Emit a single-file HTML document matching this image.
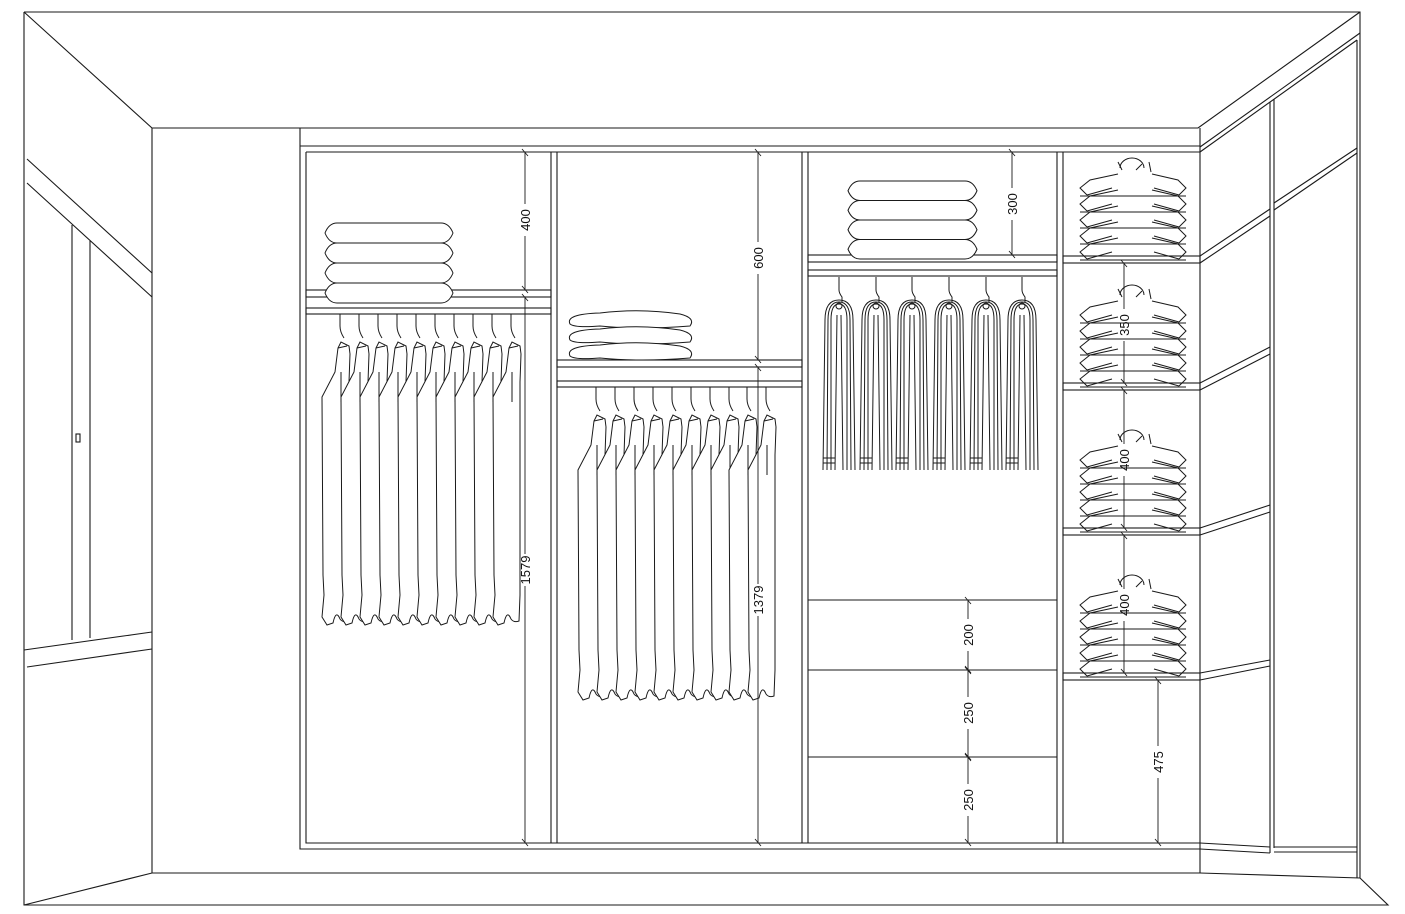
<!DOCTYPE html>
<html><head><meta charset="utf-8"><style>
html,body{margin:0;padding:0;background:#fff;}
svg{display:block;}
text{font-family:"Liberation Sans",sans-serif;font-size:13px;fill:#111;}
</style></head><body>
<svg id="s" width="1405" height="914" viewBox="0 0 1405 914" xmlns="http://www.w3.org/2000/svg" stroke="#1a1a1a" stroke-width="1.1" fill="none">
<!-- room -->
<path d="M24 12 H1360 V878 M24 12 V905 H1388 L1360 878"/>
<path d="M24 12 L152 128 H1198 L1360 12"/>
<path d="M152 128 V873 M24 905 L152 873 H1200 L1360 878"/>
<!-- window left -->
<path d="M27 159 L152 273 M27 183 L152 297"/>
<path d="M72 225 V640 M90 241 V638"/>
<path d="M24 650 L152 632 M27 667 L152 649"/>
<rect x="76" y="434" width="4" height="8"/>
<!-- cabinet -->
<path d="M300 128 V849 H1200 M300 146 H1200 M306 152 H1200 M306 152 V843 H1200"/>
<path d="M551 152 V843 M557 152 V843 M802 152 V843 M808 152 V843 M1057 152 V843 M1063 152 V843 M1200 128 V873"/>
<!-- col1 shelf/rail -->
<rect x="306" y="290" width="245" height="7"/>
<rect x="306" y="308" width="245" height="6"/>
<!-- col2 -->
<rect x="557" y="360" width="245" height="7"/>
<rect x="557" y="381" width="245" height="6"/>
<!-- col3 -->
<rect x="808" y="255" width="249" height="7"/>
<rect x="808" y="270" width="249" height="6"/>
<path d="M808 600 H1057 M808 670 H1057 M808 757 H1057"/>
<!-- col4 shelves -->
<rect x="1063" y="256" width="137" height="7"/>
<rect x="1063" y="383" width="137" height="7"/>
<rect x="1063" y="528" width="137" height="7"/>
<rect x="1063" y="673" width="137" height="7"/>
<!-- right side -->
<path d="M1200 147 L1360 33 M1200 152 L1357 40 M1357 40 V878"/>
<path d="M1270 102 V853 M1274 99 V848"/>
<path d="M1200 256 L1270 209 M1200 263 L1270 216"/>
<path d="M1200 383 L1270 347 M1200 390 L1270 354"/>
<path d="M1200 528 L1270 505 M1200 535 L1270 512"/>
<path d="M1200 673 L1270 660 M1200 680 L1270 666"/>
<path d="M1200 843 L1270 847 M1200 849 L1270 853 M1274 847 H1357 M1274 852 H1357"/>
<path d="M1274 203 L1357 148 M1274 210 L1357 153"/>
<g id="items" stroke-width="1"></g>
<g id="dims" stroke-width="0.9"></g>
<g id="labels" stroke="none">
<text transform="translate(530,220) rotate(-90)" text-anchor="middle">400</text>
<text transform="translate(530,570) rotate(-90)" text-anchor="middle">1579</text>
<text transform="translate(763,258) rotate(-90)" text-anchor="middle">600</text>
<text transform="translate(763,600) rotate(-90)" text-anchor="middle">1379</text>
<text transform="translate(1017,204) rotate(-90)" text-anchor="middle">300</text>
<text transform="translate(973,635) rotate(-90)" text-anchor="middle">200</text>
<text transform="translate(973,713) rotate(-90)" text-anchor="middle">250</text>
<text transform="translate(973,800) rotate(-90)" text-anchor="middle">250</text>
<text transform="translate(1129,325) rotate(-90)" text-anchor="middle">350</text>
<text transform="translate(1129,460) rotate(-90)" text-anchor="middle">400</text>
<text transform="translate(1129,605) rotate(-90)" text-anchor="middle">400</text>
<text transform="translate(1163,762) rotate(-90)" text-anchor="middle">475</text>
</g>
</svg>
<script>
var NS="http://www.w3.org/2000/svg";
var items=document.getElementById('items'),dims=document.getElementById('dims');
function P(g,d,fill){var p=document.createElementNS(NS,'path');p.setAttribute('d',d);if(fill)p.setAttribute('fill',fill);g.appendChild(p);}
function dim(x,y1,y2,ly){
 P(dims,'M'+x+' '+y1+' V'+(ly-16)+' M'+x+' '+(ly+16)+' V'+y2);
 P(dims,'M'+(x-3)+' '+(y1-3)+' L'+(x+3)+' '+(y1+4)+' M'+(x-3)+' '+(y2-4)+' L'+(x+3)+' '+(y2+3));
}
dim(525,152,290,220);dim(525,297,843,570);
dim(758,152,360,258);dim(758,367,843,600);
dim(1012,152,255,204);
dim(968,600,670,635);dim(968,670,757,713);dim(968,757,843,800);
dim(1124,263,383,325);dim(1124,390,528,460);dim(1124,535,673,605);
dim(1158,680,843,762);
function shirt(x,rail,bot){
 var t=rail+28;
 P(items,'M'+x+' '+rail+' V'+(rail+12)+' Q'+x+' '+(rail+18)+' '+(x+4)+' '+(rail+24));
 P(items,'M'+(x+1)+' '+t+' L'+(x-2)+' '+(t+6)+' L'+(x-5)+' '+(t+30)+' L'+(x-18)+' '+(t+55)+' L'+(x-17)+' '+(bot-50)+' L'+(x-16)+' '+(bot-30)+' L'+(x-18)+' '+(bot-8)+' L'+(x-13)+' '+bot+' L'+(x-7)+' '+(bot-2)+' Q'+(x-4)+' '+(bot-16)+' '+(x)+' '+(bot-6)+' Q'+(x+3)+' '+(bot-2)+' '+(x+8)+' '+(bot-4)+' L'+(x+9)+' '+(bot-30)+' L'+(x+9)+' '+(t+40)+' L'+(x+10)+' '+(t+12)+' L'+(x+9)+' '+(t+4)+' Z','#fff');
 P(items,'M'+(x-2)+' '+(t+6)+' L'+(x+7)+' '+(t+4)+' M'+(x+1)+' '+(t+30)+' V'+(t+60));
}
[340,359,378,397,416,435,454,473,492,511].forEach(function(x){shirt(x,314,625);});
[596,615,634,653,672,691,710,729,747,766].forEach(function(x){shirt(x,387,700);});
function trouser(x){
 P(items,'M'+x+' 277 V290 Q'+x+' 293 '+(x+3)+' 297 V302');
 for(var i=0;i<3;i++){var w=14-i*3;P(items,'M'+(x-w-2+i)+' 470 L'+(x-w)+' 320 Q'+(x-w)+' '+(300+i*2)+' '+x+' '+(300+i*2)+' Q'+(x+w)+' '+(300+i*2)+' '+(x+w)+' 320 L'+(x+w+2-i)+' 470');}
 P(items,'M'+(x-4)+' 470 L'+(x-2)+' 315 M'+(x+4)+' 470 L'+(x+2)+' 315');
 P(items,'M'+(x-16)+' 458 H'+(x-4)+' M'+(x-16)+' 463 H'+(x-4));
 var c=document.createElementNS(NS,'circle');c.setAttribute('cx',x);c.setAttribute('cy',306);c.setAttribute('r',3);items.appendChild(c);
}
[839,876,912,949,986,1022].forEach(trouser);
function pillows(x1,x2,top,h,n){
 for(var i=0;i<n;i++){var y=top+i*h;P(items,'M'+(x1+12)+' '+y+' H'+(x2-12)+' Q'+(x2-4)+' '+y+' '+x2+' '+(y+h/2)+' Q'+(x2-4)+' '+(y+h)+' '+(x2-12)+' '+(y+h)+' H'+(x1+12)+' Q'+(x1+4)+' '+(y+h)+' '+x1+' '+(y+h/2)+' Q'+(x1+4)+' '+y+' '+(x1+12)+' '+y+' Z','#fff');}
}
pillows(325,453,223,20,4);
pillows(848,977,181,19.5,4);
for(var i=0;i<3;i++){var y=312+i*16;P(items,'M570 '+(y+12)+' Q565 '+(y+2)+' 600 '+(y+1)+' Q640 '+(y-4)+' 680 '+(y+2)+' Q696 '+(y+6)+' 690 '+(y+14)+' Q640 '+(y+18)+' 600 '+(y+14)+' Q575 '+(y+16)+' 570 '+(y+12)+' Z','#fff');}
function folded(cx,base){
 var top=base-96;
 P(items,'M'+(cx-12)+' '+(top+8)+' A12 10 0 0 1 '+(cx+12)+' '+(top+8));
 P(items,'M'+(cx-14)+' '+(top+2)+' L'+(cx-10)+' '+(top+10)+' M'+(cx+4)+' '+(top+10)+' L'+(cx+10)+' '+(top+4)+' M'+(cx+17)+' '+(top+2)+' L'+(cx+19)+' '+(top+12));
 for(var i=0;i<5;i++){var y=top+18+i*16;
  P(items,'M'+(cx-14)+' '+(y-4)+' L'+(cx-42)+' '+(y+2)+' L'+(cx-52)+' '+(y+10)+' L'+(cx-45)+' '+(y+17)+' M'+(cx-52)+' '+(y+18)+' H'+(cx+54)+' M'+(cx+20)+' '+(y-4)+' L'+(cx+46)+' '+(y+2)+' L'+(cx+54)+' '+(y+10)+' L'+(cx+47)+' '+(y+17));
  P(items,'M'+(cx-45)+' '+(y+17)+' L'+(cx-20)+' '+(y+10)+' M'+(cx+47)+' '+(y+17)+' L'+(cx+22)+' '+(y+10));
 }
}
folded(1132,256);folded(1132,383);folded(1132,528);folded(1132,673);
</script>
</body></html>
